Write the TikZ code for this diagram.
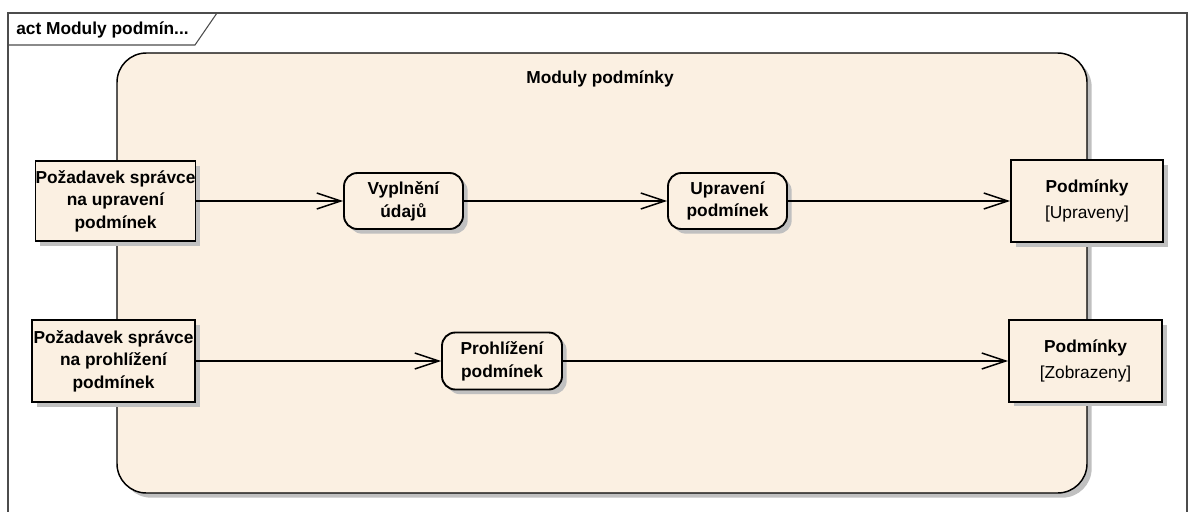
\documentclass[tikz,border=0pt]{standalone}
\usepackage{fontspec}
\setmainfont{Liberation Sans}
\usetikzlibrary{arrows.meta, shadows}

\definecolor{actfill}{HTML}{FBF0E2}
\definecolor{shadowgray}{HTML}{C0C0C0}

\tikzset{
	dropsh/.style={general shadow={fill=shadowgray, shadow xshift=3.5pt, shadow yshift=-3.5pt}},
	lbl/.style={font=\bfseries\fontsize{13}{17}\selectfont},
	objbox/.style={draw, line width=1.4pt, fill=actfill, dropsh, inner sep=0pt, align=center, lbl},
	action/.style={objbox, rounded corners=10pt, minimum width=89.25pt, minimum height=42pt},
	region/.style={draw, line width=1.1pt, fill=actfill, dropsh, rounded corners=22pt, inner sep=0pt},
	flow/.style={-{Straight Barb[length=18pt, width=12pt]}, line width=1.1pt},
	frame/.style={draw=black!70, line width=0.8pt}
}

\begin{document}
\begin{tikzpicture}[x=0.75pt, y=-0.75pt]
		\useasboundingbox (0,0) rectangle (1195,511);
		
		% Diagram frame and its header tab
		\draw[frame] (8,520) -- (8,13) -- (1187,13) -- (1187,520);
		\draw[frame] (8,45) -- (195,45) -- (217,13);
		\node[lbl, anchor=west, inner sep=0pt] (hdr) at (16,30) {act Moduly podmín...};
		
		% Activity region
		\node[region, minimum width=727.5pt, minimum height=330pt] (modul) at (602,273) {};
		\node[lbl] (modtitle) at (600,79) {Moduly podmínky};
		
		% Input requests
		\node[objbox, minimum width=114.75pt, minimum height=60pt] (req1) at (115.5,201)
			{Požadavek správce\\na upravení\\podmínek};
		\node[objbox, minimum width=122.25pt, minimum height=61.5pt] (req2) at (113.5,361)
			{Požadavek správce\\na prohlížení\\podmínek};
		
		% Actions
		\node[action] (vypl) at (403.5,201) {Vyplnění\\údajů};
		\node[action] (uprav) at (727.5,201) {Upravení\\podmínek};
		\node[action, minimum width=90pt, minimum height=42.75pt] (prohl) at (502,361)
			{Prohlížení\\podmínek};
		
		% Resulting objects
		\node[objbox, minimum width=114pt, minimum height=61.5pt] (stav1) at (1087,201)
			{Podmínky\\[2pt]{\mdseries [Upraveny]}};
		\node[objbox, minimum width=114.75pt, minimum height=61pt] (stav2) at (1085.5,361)
			{Podmínky\\[2pt]{\mdseries [Zobrazeny]}};
		
		% Flows
		\draw[flow] (req1) -- (vypl);
		\draw[flow] (vypl) -- (uprav);
		\draw[flow] (uprav) -- (stav1);
		\draw[flow] (req2) -- (prohl);
		\draw[flow] (prohl) -- (stav2);
	\end{tikzpicture}
\end{document}
